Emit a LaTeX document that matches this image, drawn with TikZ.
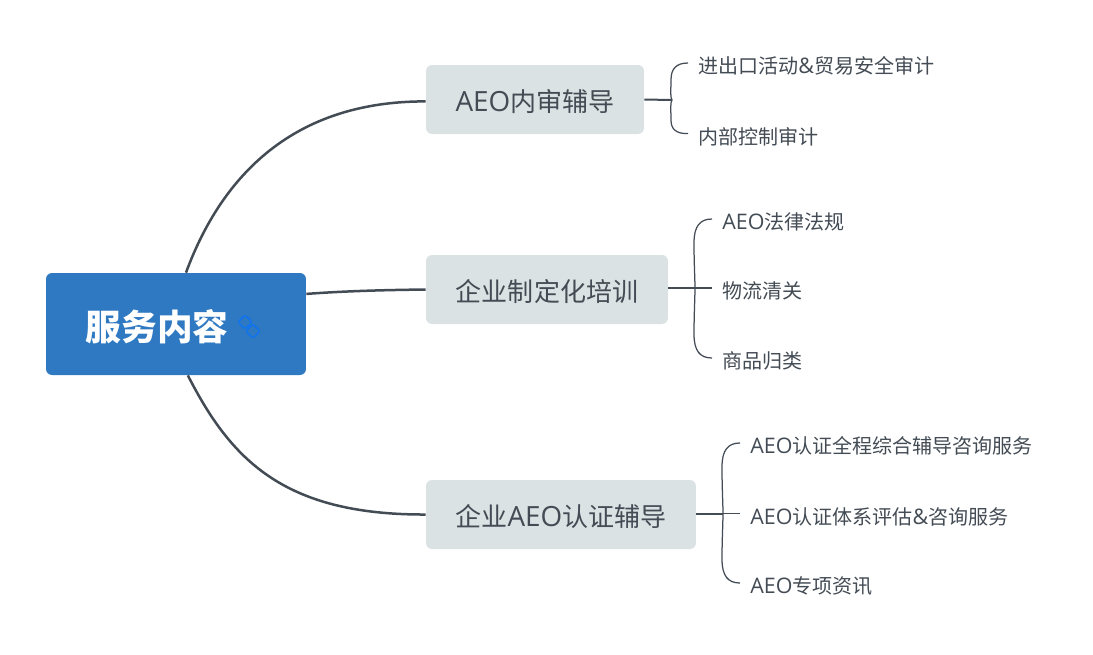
\documentclass[tikz,border=0pt]{standalone}
\usepackage{fontspec}
\setmainfont{Noto Sans CJK SC}
\newfontfamily\latinfont[Scale=1.07]{Open Sans}
\definecolor{rootblue}{HTML}{2E79C2}
\definecolor{childgray}{HTML}{DAE2E3}
\definecolor{inkgray}{HTML}{434B54}
\definecolor{linkblue}{HTML}{0F74F0}
\tikzset{
    rootbox/.style={fill=rootblue, rounded corners=0.12cm, minimum width=5.2cm, minimum height=2.04cm},
    rootlabel/.style={text=white, font=\fontsize{20.3}{24}\selectfont\bfseries, inner sep=0pt},
    childbox/.style={fill=childgray, text=inkgray, rounded corners=0.12cm, font=\fontsize{14.8}{18}\selectfont, minimum height=1.38cm, inner sep=0pt, text height=0.52cm, text depth=0.06cm},
    leafnode/.style={text=inkgray, font=\fontsize{11.4}{14}\selectfont, inner ysep=0pt, inner xsep=0.2cm, anchor=west, text height=0.50cm, text depth=0.08cm},
    linkicon/.style={draw=linkblue, line width=0.3mm, rounded corners=0.05cm, rotate=45, minimum size=0.2cm, inner sep=0pt},
    mainline/.style={draw=inkgray, line width=0.5mm},
    stemline/.style={draw=inkgray, line width=0.4mm},
    braceline/.style={draw=inkgray, line width=0.25mm}
}
\begin{document}
\begin{tikzpicture}[x=0.02cm, y=-0.02cm]
    \useasboundingbox (0, 0) rectangle (1093, 654);

    \node [rootbox] (root) at (176, 324) {};
    \node [rootlabel] (rootText) at (157, 327) {服务内容};
    \node [linkicon] (linkA) at (245, 322) {};
    \node [linkicon] (linkB) at (253, 331) {};

    \node [childbox, minimum width=4.36cm] (audit) at (535, 99.5) {{\latinfont AEO}内审辅导};
    \node [childbox, minimum width=4.84cm] (train) at (547, 289.5) {企业制定化培训};
    \node [childbox, minimum width=5.4cm] (certify) at (561, 514.5) {企业{\latinfont AEO}认证辅导};

    \draw [mainline] (root.79) .. controls (222, 175) and (294, 101) .. (audit.181);
    \draw [mainline] (root.13) .. controls (345, 291) and (385, 290) .. (train.west);
    \draw [mainline] (root.-77) .. controls (231, 460) and (284, 515) .. (certify.west);

    \node [leafnode] (auditA) at (688, 63) {进出口活动{\latinfont\&}贸易安全审计};
    \node [leafnode] (auditB) at (688, 133.5) {内部控制审计};
    \coordinate (auditBrace) at (672, 100);
    \draw [stemline] (audit.east) -- (auditBrace);
    \draw [braceline] (auditA.west) .. controls (676, 63) and (671, 69) .. (671, 80) .. controls (671, 90) and (670, 97) .. (auditBrace);
    \draw [braceline] (auditB.west) .. controls (676, 134) and (671, 129) .. (671, 120) .. controls (671, 110) and (670, 103) .. (auditBrace);

    \node [leafnode] (trainA) at (712, 219) {{\latinfont AEO}法律法规};
    \node [leafnode] (trainB) at (712, 288) {物流清关};
    \node [leafnode] (trainC) at (712, 358) {商品归类};
    \coordinate (trainBrace) at (695, 288);
    \draw [stemline] (train.east |- trainBrace) -- (trainBrace);
    \draw [braceline] (trainBrace) -- (trainB.west);
    \draw [braceline] (trainA.west) .. controls (700, 219) and (694, 226) .. (694, 243) .. controls (694, 262) and (695, 280) .. (trainBrace);
    \draw [braceline] (trainC.west) .. controls (700, 358) and (694, 351) .. (694, 334) .. controls (694, 316) and (695, 296) .. (trainBrace);

    \node [leafnode] (certifyA) at (740, 443) {{\latinfont AEO}认证全程综合辅导咨询服务};
    \node [leafnode] (certifyB) at (740, 513.5) {{\latinfont AEO}认证体系评估{\latinfont\&}咨询服务};
    \node [leafnode] (certifyC) at (740, 583) {{\latinfont AEO}专项资讯};
    \coordinate (certifyBrace) at (723, 513.5);
    \draw [stemline] (certify.east |- certifyBrace) -- (certifyBrace);
    \draw [braceline] (certifyBrace) -- (certifyB.west);
    \draw [braceline] (certifyA.west) .. controls (728, 443) and (722, 450) .. (722, 467) .. controls (722, 487) and (723, 505) .. (certifyBrace);
    \draw [braceline] (certifyC.west) .. controls (728, 583) and (722, 576) .. (722, 559) .. controls (722, 541) and (723, 522) .. (certifyBrace);
\end{tikzpicture}
\end{document}
